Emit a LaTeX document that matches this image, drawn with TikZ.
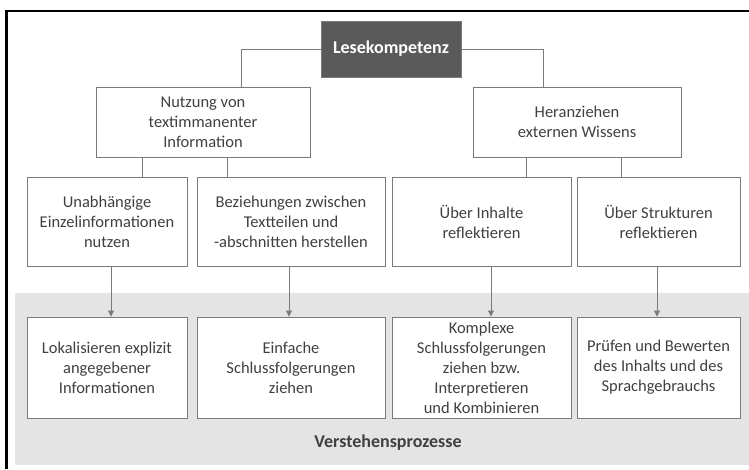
\documentclass[tikz,border=0pt]{standalone}
\usepackage{fontspec}
\setmainfont{Carlito}
\usetikzlibrary{arrows.meta}
\definecolor{txtgray}{HTML}{404040}
\definecolor{linegray}{HTML}{7A7A7A}
\definecolor{bandgray}{HTML}{E4E4E4}
\definecolor{headgray}{HTML}{5A5A5A}
\begin{document}
\begin{tikzpicture}[x=1pt,y=-1pt,
  box/.style={draw=linegray,fill=white,line width=0.9pt,inner sep=0pt,align=center,text=txtgray,font=\fontsize{16.5}{20}\selectfont},
  head/.style={draw=linegray,fill=headgray,line width=0.9pt,inner sep=0pt,text=white,font=\fontsize{18}{22}\selectfont\bfseries},
  conn/.style={draw=linegray,line width=1pt},
  arr/.style={conn,-{Triangle[length=6pt,width=6pt]}}]
\useasboundingbox (0,0) rectangle (749,469);
\fill[white] (0,0) rectangle (749,469);
\fill[bandgray] (15,293) rectangle (749,465);
\draw[line width=2.8pt] (6.5,469) -- (6.5,11) -- (749,11);
\node[head,minimum width=140pt,minimum height=56pt] (lese) at (391,49) {Lesekompetenz};
\node[box,minimum width=214pt,minimum height=70pt] (nutz) at (203,122) {Nutzung von\\textimmanenter\\Information};
\node[box,minimum width=208pt,minimum height=70pt] (hera) at (577,122) {Heranziehen\\externen Wissens};
\node[box,minimum width=160pt,minimum height=89pt] (u1) at (107,221.5) {Unabhängige\\Einzelinformationen\\nutzen};
\node[box,minimum width=188pt,minimum height=89pt] (u2) at (291,221.5) {Beziehungen zwischen\\Textteilen und\\-abschnitten herstellen};
\node[box,minimum width=179pt,minimum height=89pt] (u3) at (481.5,221.5) {Über Inhalte\\reflektieren};
\node[box,minimum width=163pt,minimum height=89pt] (u4) at (658.5,221.5) {Über Strukturen\\reflektieren};
\node[box,minimum width=160pt,minimum height=101pt] (l1) at (107,367.5) {Lokalisieren explizit\\angegebener\\Informationen};
\node[box,minimum width=188pt,minimum height=101pt] (l2) at (291,367.5) {Einfache\\Schlussfolgerungen\\ziehen};
\node[box,minimum width=179pt,minimum height=101pt] (l3) at (481.5,367.5) {Komplexe\\Schlussfolgerungen\\ziehen bzw.\\Interpretieren\\und Kombinieren};
\node[box,minimum width=163pt,minimum height=101pt] (l4) at (658.5,367.5) {Prüfen und Bewerten\\des Inhalts und des\\Sprachgebrauchs};
\node[text=txtgray,font=\fontsize{18}{22}\selectfont\bfseries] (vp) at (388,443) {Verstehensprozesse};
\draw[conn] (lese.west) -| ([xshift=38pt]nutz.north);
\draw[conn] (lese.east) -| ([xshift=-34pt]hera.north);
\draw[conn] ([xshift=35pt]u1.north) -- ([xshift=35pt]u1.north |- nutz.south);
\draw[conn] ([xshift=-64pt]u2.north) -- ([xshift=-64pt]u2.north |- nutz.south);
\draw[conn] ([xshift=44.5pt]u3.north) -- ([xshift=44.5pt]u3.north |- hera.south);
\draw[conn] ([xshift=-37.5pt]u4.north) -- ([xshift=-37.5pt]u4.north |- hera.south);
\draw[arr] ([xshift=4pt]u1.south) -- ([xshift=4pt]l1.north);
\draw[arr] ([xshift=-2pt]u2.south) -- ([xshift=-2pt]l2.north);
\draw[arr] ([xshift=9.5pt]u3.south) -- ([xshift=9.5pt]l3.north);
\draw[arr] ([xshift=-1.5pt]u4.south) -- ([xshift=-1.5pt]l4.north);
\end{tikzpicture}
\end{document}
